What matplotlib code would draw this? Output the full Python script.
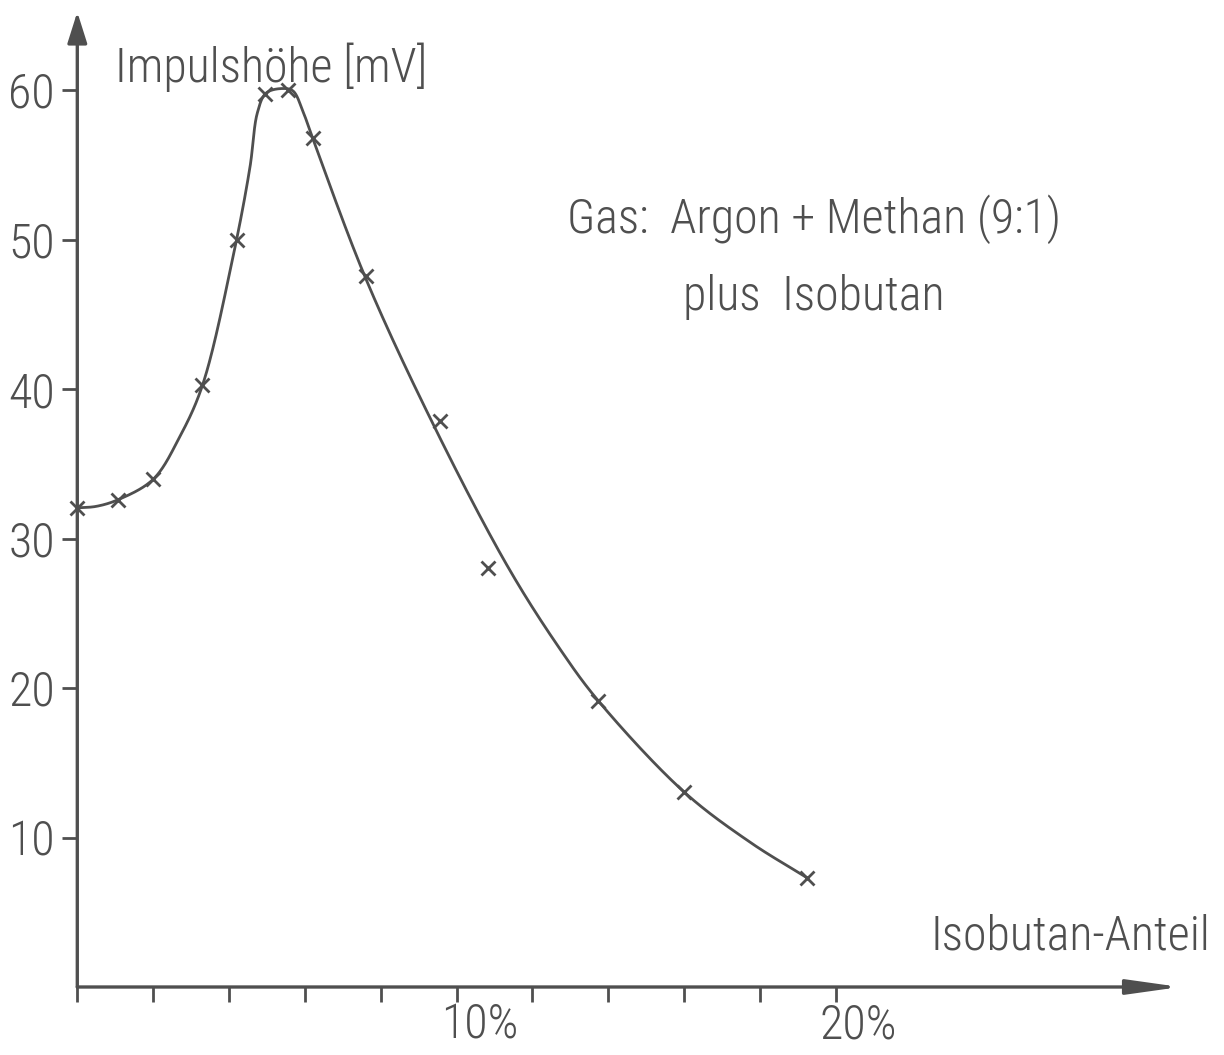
import numpy as np
import matplotlib
matplotlib.use("Agg")
import matplotlib.pyplot as plt
from matplotlib.transforms import ScaledTranslation

# ---- data ----
# measured points (x markers): Isobutan share [%] vs. pulse height [mV]
iso_pct = [0.0, 1.08, 2.0, 3.30, 4.20, 4.95, 5.56, 6.22, 7.60, 9.56, 10.84, 13.74, 16.0, 19.23]
pulse_mv = [32.07, 32.6, 33.96, 40.25, 49.97, 59.71, 60.0, 56.82, 47.56, 37.86, 28.05, 19.13, 13.04, 7.32]

# hand-drawn fit curve
curve_pct = [0.0, 0.5, 1.08, 2.0, 2.7, 3.30, 4.11, 4.55, 4.75, 4.98,
             5.43, 5.69, 5.96, 6.20, 7.58, 9.34, 11.36, 12.73, 13.74, 16.0, 17.74, 19.23]
curve_mv = [32.05, 32.15, 32.6, 33.96, 36.8, 40.25, 48.9, 54.8, 58.5, 59.8,
            60.1, 59.93, 58.49, 56.82, 47.54, 37.86, 28.07, 22.59, 19.13, 13.04, 9.68, 7.32]

x_ticks = [0, 2, 4, 6, 8, 10, 12, 14, 16, 18, 20]
x_tick_labels = ["", "", "", "", "", "10%", "", "", "", "", "20%"]
y_ticks = [10, 20, 30, 40, 50, 60]
y_tick_labels = ["10", "20", "30", "40", "50", "60"]

y_title = "Impulshöhe [mV]"
x_title = "Isobutan-Anteil"
note_1 = "Gas:  Argon + Methan (9:1)"
note_2 = "plus  Isobutan"

# ---- style ----
C = "#4f4f4f"
FAM = ["Roboto Condensed", "Roboto", "DejaVu Sans"]
plt.rcParams["font.family"] = FAM
plt.rcParams["font.weight"] = "light"
FS = 34.5

W, H = 1224, 1055
fig = plt.figure(figsize=(W / 100, H / 100), dpi=100)
fig.patch.set_facecolor("white")

# pixel geometry of the drawing: origin and arrow tips
x0, y0 = 77.3, 987.0
x1, y1 = 1180, 12
px_per_pct = 37.93
px_per_mv = 14.95
ax = fig.add_axes([x0 / W, 1 - y0 / H, (x1 - x0) / W, (y0 - y1) / H])
ax.set_xlim(0, (x1 - x0) / px_per_pct)
ax.set_ylim(0, (y0 - y1) / px_per_mv)
for s in ax.spines.values():
    s.set_visible(False)
ax.set_facecolor("none")


def catmull_rom(xs, ys, sx, sy, n=40):
    P = np.column_stack([np.asarray(xs) * sx, np.asarray(ys) * sy])
    P = np.vstack([2 * P[0] - P[1], P, 2 * P[-1] - P[-2]])
    out = []
    for i in range(1, len(P) - 2):
        p0, p1, p2, p3 = P[i - 1], P[i], P[i + 1], P[i + 2]
        t0 = 0.0
        t1 = t0 + np.linalg.norm(p1 - p0) ** 0.5
        t2 = t1 + np.linalg.norm(p2 - p1) ** 0.5
        t3 = t2 + np.linalg.norm(p3 - p2) ** 0.5
        t = np.linspace(t1, t2, n)[:, None]
        A1 = (t1 - t) / (t1 - t0) * p0 + (t - t0) / (t1 - t0) * p1
        A2 = (t2 - t) / (t2 - t1) * p1 + (t - t1) / (t2 - t1) * p2
        A3 = (t3 - t) / (t3 - t2) * p2 + (t - t2) / (t3 - t2) * p3
        B1 = (t2 - t) / (t2 - t0) * A1 + (t - t0) / (t2 - t0) * A2
        B2 = (t3 - t) / (t3 - t1) * A2 + (t - t1) / (t3 - t1) * A3
        Cc = (t2 - t) / (t2 - t1) * B1 + (t - t1) / (t2 - t1) * B2
        out.append(Cc)
    Q = np.vstack(out)
    return Q[:, 0] / sx, Q[:, 1] / sy


cx, cy = catmull_rom(curve_pct, curve_mv, px_per_pct, px_per_mv)
ax.plot(cx, cy, color=C, lw=2.0, solid_capstyle="round", solid_joinstyle="round",
        clip_on=False, zorder=3)
ax.plot(iso_pct, pulse_mv, linestyle="none", marker="x", ms=9.5, mew=2.0,
        color=C, clip_on=False, zorder=4)

# axes with arrow heads
ax.annotate("", xy=(1, 0), xytext=(0, 0), xycoords="axes fraction",
            arrowprops=dict(arrowstyle="-|>,head_length=3.2,head_width=0.45",
                            mutation_scale=10, lw=2.4, color=C,
                            shrinkA=0, shrinkB=0))
ax.annotate("", xy=(0, 1), xytext=(0, 0), xycoords="axes fraction",
            arrowprops=dict(arrowstyle="-|>,head_length=1.9,head_width=0.6",
                            mutation_scale=10, lw=2.4, color=C,
                            shrinkA=0, shrinkB=0))

ax.set_xticks(x_ticks, x_tick_labels)
ax.set_yticks(y_ticks, y_tick_labels)
ax.tick_params(axis="both", direction="out", length=10.5, width=2.0, color=C,
               labelcolor=C, labelsize=FS)
ax.tick_params(axis="y", pad=5.5)
ax.tick_params(axis="x", pad=1)
# x labels: the number sits on the tick, the % sign hangs to the right
for lab in ax.get_xticklabels():
    lab.set_horizontalalignment("left")
    lab.set_transform(lab.get_transform() + ScaledTranslation(-16 / 100, 0, fig.dpi_scale_trans))


def ftext(x, y, s, **kw):
    fig.text(x / W, 1 - y / H, s, color=C, fontsize=FS, **kw)


ftext(115, 82, y_title, ha="left", va="baseline")
ftext(1210, 950, x_title, ha="right", va="baseline")
ftext(567, 233, note_1, ha="left", va="baseline")
ftext(683, 310, note_2, ha="left", va="baseline")

fig.savefig("out.png", dpi=100, facecolor="white")
